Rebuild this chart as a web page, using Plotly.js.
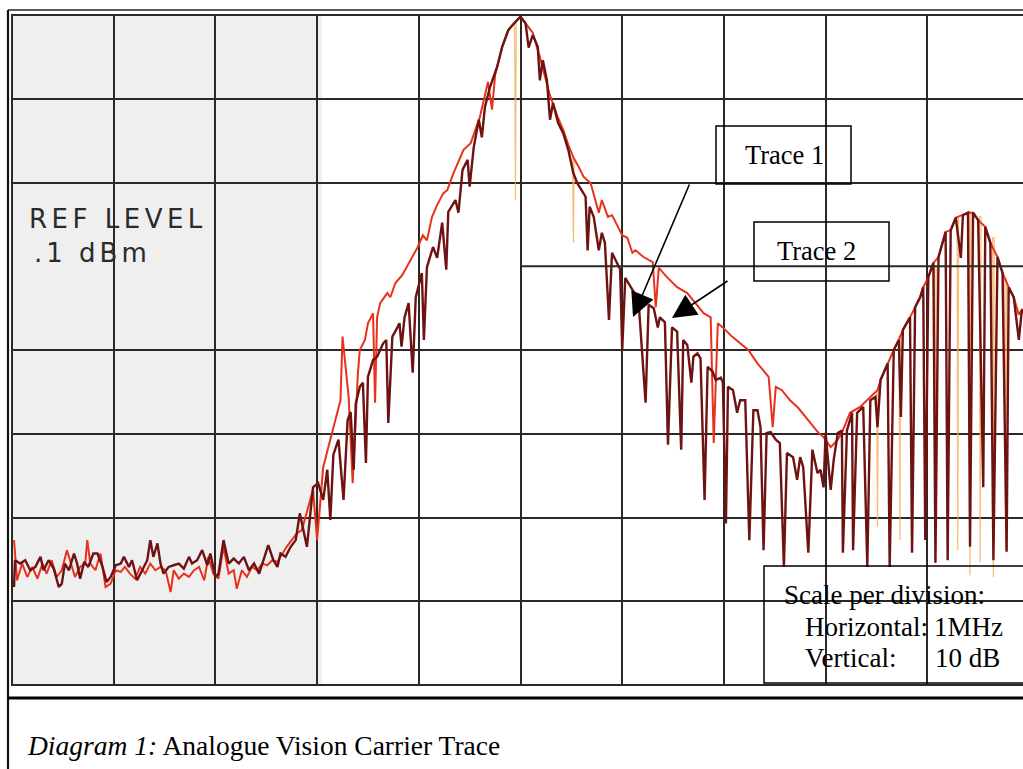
<!DOCTYPE html>
<html>
<head>
<meta charset="utf-8">
<script src="https://cdn.plot.ly/plotly-3.0.1.min.js"></script>
<style>html,body{margin:0;padding:0;background:#fff;}#chart{width:1023px;height:769px;}</style>
</head>
<body>
<div id="chart"></div>
<script>
// Trace 1 (dark): frequency offset in MHz, level in dB
const darkX = [
0.02,0.03,0.08,0.13,0.18,0.23,0.28,0.31,0.36,0.41,
0.46,0.49,0.52,0.56,0.61,0.64,0.67,0.71,0.75,0.80,
0.84,0.89,0.93,0.97,1.02,1.07,1.10,1.15,1.18,1.23,
1.28,1.33,1.36,1.39,1.43,1.46,1.49,1.54,1.59,1.64,
1.69,1.74,1.77,1.82,1.87,1.92,1.95,2.00,2.03,2.08,
2.13,2.18,2.23,2.28,2.33,2.38,2.43,2.48,2.52,2.57,
2.61,2.64,2.69,2.74,2.79,
2.83,2.90,2.96,3.01,3.06,3.10,3.13,3.16,3.21,3.26,
3.30,3.33,3.36,3.38,3.42,3.45,3.48,3.50,3.55,3.59,
3.65,3.68,3.70,3.74,3.79,3.81,3.83,3.86,3.90,3.94,
3.97,4.03,4.05,4.08,4.14,4.18,4.23,4.27,4.29,4.36,
4.39,4.43,4.48,4.50,4.54,4.59,4.62,4.65,4.70,4.77,
4.82,4.88,4.95,5.00,5.05,5.08,5.12,5.17,5.19,5.22,
5.26,5.29,5.32,5.37,5.42,5.47,5.52,5.56,5.64,5.66,
5.68,5.72,5.77,5.80,5.83,5.87,5.90,5.95,5.98,6.00,
6.03,6.10,6.16,6.23,6.26,6.31,6.35,6.37,6.42,6.45,
6.49,6.54,6.58,6.60,6.64,6.68,6.70,6.74,6.77,6.81,
6.84,6.89,6.92,6.97,6.99,7.02,7.04,7.09,7.13,7.16,
7.21,7.25,7.29,7.33,7.36,7.39,7.42,7.46,7.51,7.55,
7.59,7.62,7.68,7.72,7.75,7.78,7.83,7.87,7.92,7.95,
7.98,8.00,8.05,8.08,8.12,8.16,8.17,8.21,8.26,8.27,
8.31,8.37,8.41,8.44,8.49,8.51,8.54,8.61,8.63,8.67,
8.72,8.74,8.76,8.83,8.85,8.88,8.93,8.96,8.98,9.01,
9.06,9.08,9.11,9.18,9.20,9.23,9.28,9.33,9.35,9.40,
9.42,9.45,9.50,9.55,9.57,9.62,9.65,9.69,9.74,9.78,
9.80,9.85,9.90,9.93,9.98
];
const darkY = [
-68.3,-65.1,-65.5,-65.1,-66.3,-65.9,-64.7,-66.3,-65.1,-66.1,
-68.3,-67.9,-65.5,-66.3,-64.3,-65.5,-67.3,-65.3,-65.9,-64.3,
-64.3,-65.9,-67.7,-67.1,-65.7,-65.5,-64.7,-65.9,-65.1,-67.5,
-66.3,-65.1,-62.7,-64.7,-63.1,-65.5,-66.7,-65.9,-65.7,-65.5,
-66.1,-64.7,-65.5,-65.1,-63.9,-65.7,-64.3,-67.1,-66.7,-62.7,
-65.5,-64.9,-65.5,-64.7,-66.3,-65.5,-66.7,-64.7,-63.3,-65.1,
-65.9,-64.3,-64.7,-63.5,-62.7,
-59.5,-63.5,-56.4,-55.9,-57.9,-54.3,-60.3,-52.5,-50.7,-57.9,
-48.4,-47.4,-54.3,-46.4,-44.4,-43.9,-53.5,-43.2,-41.2,-40.8,
-39.2,-38.8,-48.7,-38.4,-37.3,-36.8,-39.6,-36.1,-34.4,-42.7,
-33.7,-30.8,-38.8,-30.1,-27.7,-29.0,-24.8,-30.4,-23.5,-22.1,
-23.6,-18.5,-17.3,-20.5,-15.8,-12.5,-14.6,-11.0,-8.6,-6.2,
-3.8,-1.8,-0.8,-0.2,-1.0,-3.9,-2.4,-3.8,-7.8,-5.4,
-7.8,-12.5,-10.5,-12.9,-14.1,-16.1,-18.9,-20.1,-21.7,-28.1,
-22.9,-24.1,-28.1,-26.0,-27.2,-36.4,-28.4,-29.6,-30.4,-40.0,
-31.4,-32.8,-34.0,-46.3,-34.6,-35.0,-37.3,-36.1,-36.7,-51.3,
-37.3,-37.8,-51.9,-38.8,-39.4,-43.9,-40.8,-40.4,-41.0,-57.9,
-42.0,-42.6,-43.6,-43.3,-43.9,-60.7,-44.4,-44.8,-47.5,-46.0,
-46.0,-62.7,-47.2,-47.2,-49.2,-63.9,-49.9,-49.8,-50.7,-51.1,
-65.9,-52.3,-52.8,-55.5,-52.8,-54.0,-64.2,-51.9,-54.7,-54.3,
-56.4,-49.9,-56.7,-53.1,-49.9,-49.6,-64.2,-49.6,-47.5,-63.9,
-47.5,-46.8,-65.9,-46.0,-45.6,-49.2,-43.6,-41.6,-65.9,-40.0,
-38.8,-48.0,-37.6,-36.1,-64.2,-34.9,-33.7,-32.5,-62.7,-31.3,
-29.6,-65.4,-28.9,-25.9,-65.1,-25.7,-24.2,-29.0,-23.9,-23.6,
-63.5,-23.6,-24.5,-56.4,-25.3,-27.2,-65.1,-28.9,-30.8,-64.1,
-32.5,-33.7,-38.8,-35.2,-36.0
];

// Trace 2 (red)
const redX = [
0.02,0.05,0.10,0.15,0.20,0.25,0.30,0.34,0.39,0.44,
0.49,0.54,0.57,0.62,0.67,0.72,0.74,0.77,0.82,0.87,
0.92,0.97,1.02,1.07,1.11,1.16,1.21,1.26,1.31,1.36,
1.41,1.46,1.51,1.56,1.59,1.64,1.69,1.74,1.79,1.84,
1.89,1.93,1.98,2.03,2.08,2.13,2.18,2.21,2.26,2.31,
2.36,2.41,2.46,2.51,2.56,2.61,2.66,2.70,2.75,2.80,
2.85,
2.96,3.00,3.06,3.13,3.18,3.23,3.25,3.31,3.35,3.40,
3.42,3.47,3.50,3.55,3.57,3.59,3.62,3.69,3.72,3.77,
3.84,3.92,3.99,4.04,4.08,4.13,4.18,4.24,4.28,4.34,
4.44,4.51,4.60,4.68,4.72,4.75,4.82,4.88,4.95,5.00,
5.05,5.12,5.19,5.24,5.29,5.37,5.42,5.47,5.52,5.57,
5.62,5.69,5.74,5.77,5.80,5.86,5.90,6.00,6.05,6.10,
6.13,6.21,6.30,6.33,6.36,6.44,6.54,6.64,6.72,6.80,
6.87,6.90,6.94,6.99,7.08,7.16,7.24,7.33,7.39,7.44,
7.48,7.51,7.57,7.65,7.73,7.80,7.87,7.93,7.98,8.05,
8.12,8.17,8.24,8.34,8.44,8.51,8.54,8.61,8.67,8.72,
8.76,8.83,8.88,8.93,8.96,9.01,9.06,9.11,9.18,9.23,
9.28,9.35,9.40,9.45,9.50,9.57,9.62,9.69,9.74,9.80,
9.85,9.90,9.93,9.98
];
const redY = [
-62.7,-67.5,-65.5,-67.1,-65.9,-67.3,-65.5,-66.7,-65.1,-67.1,
-66.3,-63.9,-65.1,-67.1,-65.9,-65.5,-62.7,-65.5,-66.3,-64.3,
-68.3,-67.9,-66.3,-66.5,-65.9,-66.7,-67.3,-65.9,-66.7,-65.5,
-66.3,-65.9,-66.3,-68.9,-66.3,-67.3,-66.7,-67.1,-66.3,-65.9,
-67.5,-64.7,-66.7,-67.3,-63.5,-66.7,-66.3,-68.5,-66.3,-67.1,
-65.9,-66.3,-65.5,-65.7,-65.1,-65.3,-64.3,-63.5,-62.7,-61.9,
-61.5,
-56.7,-62.7,-54.0,-50.7,-48.4,-46.0,-38.4,-45.6,-55.9,-43.0,
-40.0,-38.8,-36.8,-35.6,-46.3,-36.1,-34.4,-33.2,-33.7,-32.0,
-31.0,-29.3,-27.7,-26.3,-26.9,-24.1,-22.7,-21.3,-20.9,-18.9,
-16.1,-15.3,-12.2,-8.0,-11.3,-7.2,-3.8,-1.8,-0.8,-0.2,
-1.0,-2.1,-5.0,-7.4,-9.6,-12.3,-13.7,-15.5,-17.0,-18.1,
-19.3,-20.1,-22.4,-23.6,-22.1,-24.1,-23.9,-26.3,-26.6,-28.4,
-28.1,-28.9,-29.5,-34.9,-30.2,-31.3,-32.5,-33.2,-34.4,-35.6,
-36.1,-51.1,-36.8,-37.3,-38.4,-39.2,-40.0,-41.6,-42.4,-43.2,
-49.2,-44.4,-44.8,-46.0,-46.9,-48.0,-49.0,-49.9,-50.4,-51.6,
-50.7,-49.6,-47.5,-46.8,-45.6,-44.8,-43.6,-41.6,-40.0,-38.8,
-37.6,-36.1,-34.9,-33.7,-32.5,-31.3,-29.6,-28.9,-25.9,-25.7,
-24.2,-23.9,-23.6,-23.6,-24.5,-25.3,-27.2,-28.9,-30.8,-32.5,
-33.7,-35.8,-35.2,-36.0
];

// faint orange dropouts of trace 2
const spikeX = [4.95, 5.52, 8.51, 8.73, 9.08, 9.30, 9.42, 9.52, 9.65, 9.77];
const spikeTop = [-0.8, -17.0, -44.8, -38.2, -30.0, -24.0, -23.6, -24.0, -26.5, -31.5];
const spikeBottom = [-22.1, -27.2, -61.1, -62.7, -65.4, -63.9, -66.9, -65.3, -67.1, -63.9];

const refLabel = ['REF LEVEL', '.1 dBm'];
const traceLabels = ['Trace 1', 'Trace 2'];
const scaleLines = ['Scale per division:', 'Horizontal:', '1MHz', 'Vertical:', '10 dB'];
const captionItalic = 'Diagram 1:';
const captionText = 'Analogue Vision Carrier Trace';

// build spike polyline
const sx = [], sy = [];
for (let i = 0; i < spikeX.length; i++) {
  sx.push(spikeX[i] - 0.008, spikeX[i], spikeX[i] + 0.008, null);
  sy.push(spikeTop[i], spikeBottom[i], spikeTop[i], null);
}

const data = [
  {x: sx, y: sy, type: 'scatter', mode: 'lines', line: {color: '#f6a64a', width: 1.2}, opacity: 0.75, hoverinfo: 'skip', connectgaps: false},
  {x: redX, y: redY, type: 'scatter', mode: 'lines', line: {color: '#e8321c', width: 2}, name: 'Trace 2'},
  {x: darkX, y: darkY, type: 'scatter', mode: 'lines', line: {color: '#6e1212', width: 2.4}, name: 'Trace 1'}
];

const P = (px) => (px - 12) / 1011;      // paper x from pixel
const Q = (py) => (685 - py) / 670;      // paper y from pixel
const gridCol = '#2d2828';
const serif = 'Liberation Serif, Times New Roman, serif';

const shapes = [
  {type: 'rect', layer: 'below', xref: 'x', yref: 'y', x0: 0, x1: 3.05, y0: -80, y1: 0, fillcolor: '#efefef', line: {width: 0}},
  {type: 'line', xref: 'x', yref: 'y', x0: 5, x1: 10, y0: -30, y1: -30, line: {color: gridCol, width: 2}},
  {type: 'rect', xref: 'paper', yref: 'paper', x0: 0, x1: 1.02, y0: 0, y1: 1, line: {color: gridCol, width: 2}},
  // outer frame
  {type: 'line', xref: 'paper', yref: 'paper', x0: P(8), x1: P(8), y0: Q(10), y1: Q(769), line: {color: '#111', width: 2.2}},
  {type: 'line', xref: 'paper', yref: 'paper', x0: P(8), x1: 1.02, y0: Q(10), y1: Q(10), line: {color: '#222', width: 1.5}},
  {type: 'line', xref: 'paper', yref: 'paper', x0: P(8), x1: 1.02, y0: Q(698), y1: Q(698), line: {color: '#000', width: 3}},
  // label boxes
  {type: 'rect', xref: 'paper', yref: 'paper', x0: P(716), x1: P(851), y0: Q(184), y1: Q(126), line: {color: '#000', width: 1.5}},
  {type: 'rect', xref: 'paper', yref: 'paper', x0: P(754), x1: P(889), y0: Q(281), y1: Q(222), line: {color: '#000', width: 1.5}},
  {type: 'rect', xref: 'paper', yref: 'paper', x0: P(764), x1: 1.02, y0: Q(683), y1: Q(566), line: {color: '#000', width: 1.5}}
];

const plotterFont = {family: 'DejaVu Sans, sans-serif', size: 26, color: '#2a2a2a'};
const labelFont = {family: serif, size: 26.5, color: '#000'};
const serifFont = {family: serif, size: 27, color: '#000'};

const annotations = [
  {xref: 'paper', yref: 'paper', x: P(27), y: Q(219), xanchor: 'left', yanchor: 'middle', showarrow: false,
   text: '<span style="letter-spacing:4.5px">' + refLabel[0] + '</span>', font: plotterFont},
  {xref: 'paper', yref: 'paper', x: P(32), y: Q(253), xanchor: 'left', yanchor: 'middle', showarrow: false,
   text: '<span style="letter-spacing:4px">' + refLabel[1] + '</span>', font: plotterFont},
  {xref: 'paper', yref: 'paper', x: P(784), y: Q(155), xanchor: 'center', yanchor: 'middle', showarrow: false, text: traceLabels[0], font: labelFont},
  {xref: 'paper', yref: 'paper', x: P(816), y: Q(251), xanchor: 'center', yanchor: 'middle', showarrow: false, text: traceLabels[1], font: labelFont},
  {xref: 'paper', yref: 'paper', x: P(633), y: Q(317), ax: 57, ay: -134, showarrow: true, text: '', arrowhead: 2, arrowsize: 3, arrowwidth: 1.6, arrowcolor: '#000', standoff: 0},
  {xref: 'paper', yref: 'paper', x: P(672), y: Q(318), ax: 57, ay: -38, showarrow: true, text: '', arrowhead: 2, arrowsize: 3, arrowwidth: 1.6, arrowcolor: '#000', standoff: 0},
  {xref: 'paper', yref: 'paper', x: P(782), y: Q(595), xanchor: 'left', yanchor: 'middle', showarrow: false, text: scaleLines[0], font: serifFont},
  {xref: 'paper', yref: 'paper', x: P(803), y: Q(627), xanchor: 'left', yanchor: 'middle', showarrow: false, text: scaleLines[1], font: serifFont},
  {xref: 'paper', yref: 'paper', x: P(932), y: Q(627), xanchor: 'left', yanchor: 'middle', showarrow: false, text: scaleLines[2], font: serifFont},
  {xref: 'paper', yref: 'paper', x: P(803), y: Q(658), xanchor: 'left', yanchor: 'middle', showarrow: false, text: scaleLines[3], font: serifFont},
  {xref: 'paper', yref: 'paper', x: P(933), y: Q(658), xanchor: 'left', yanchor: 'middle', showarrow: false, text: scaleLines[4], font: serifFont},
  {xref: 'paper', yref: 'paper', x: P(25), y: Q(745), xanchor: 'left', yanchor: 'middle', showarrow: false,
   text: '<i>' + captionItalic + '</i> ' + captionText, font: {family: serif, size: 27.5, color: '#000'}}
];

const layout = {
  width: 1023, height: 769,
  margin: {l: 12, r: 0, t: 15, b: 84, pad: 0},
  paper_bgcolor: '#fff', plot_bgcolor: '#fff',
  showlegend: false,
  xaxis: {range: [0, 9.941], tick0: 0, dtick: 1, showgrid: true, gridcolor: gridCol, gridwidth: 2,
          showticklabels: false, ticks: '', zeroline: false, showline: false, fixedrange: true},
  yaxis: {range: [-80, 0], tickvals: [-10, -20, -40, -50, -60, -70], showgrid: true, gridcolor: gridCol, gridwidth: 2,
          showticklabels: false, ticks: '', zeroline: false, showline: false, fixedrange: true},
  shapes: shapes,
  annotations: annotations
};

Plotly.newPlot('chart', data, layout, {staticPlot: true, displayModeBar: false});
</script>
</body>
</html>
